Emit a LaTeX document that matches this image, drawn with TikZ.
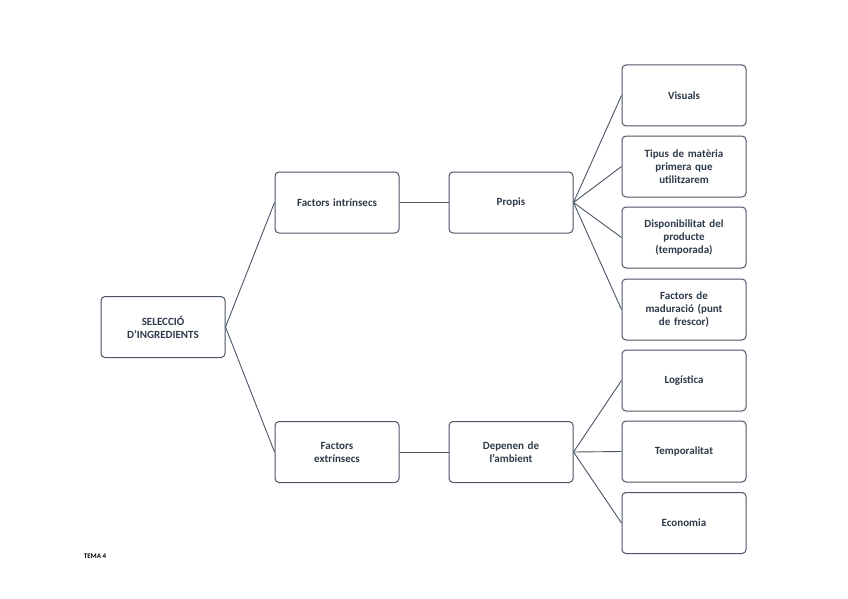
\documentclass[tikz,border=0pt]{standalone}
\usepackage{fontspec}
\setmainfont{Carlito}
\begin{document}
\begin{tikzpicture}[x=1pt,y=-1pt,
  box/.style={draw=edge,line width=1pt,rounded corners=4pt,minimum width=124pt,minimum height=61pt,align=center,text width=116pt,font=\fontsize{11}{13}\selectfont\bfseries,text=txt,fill=white},
  ln/.style={draw=edge,line width=0.9pt}]
\definecolor{edge}{HTML}{4A5666}
\definecolor{txt}{HTML}{2E3A4A}
\useasboundingbox (0,0) rectangle (848,599);
\node[box] (s) at (163,327) {SELECCIÓ\\D'INGREDIENTS};
\node[box] (fi) at (337,202.5) {Factors intrínsecs};
\node[box] (p) at (511,202.5) {Propis};
\node[box] (v) at (684,95.5) {Visuals};
\node[box] (t) at (684,166.5) {Tipus de matèria\\primera que\\utilitzarem};
\node[box] (d) at (684,237.5) {Disponibilitat del\\producte\\(temporada)};
\node[box] (m) at (684,309.5) {Factors de\\maduració (punt\\de frescor)};
\node[box] (fe) at (337,452) {Factors\\extrínsecs};
\node[box] (dp) at (511,452) {Depenen de\\l'ambient};
\node[box] (l) at (684,380.5) {Logística};
\node[box] (tp) at (684,451.5) {Temporalitat};
\node[box] (e) at (684,523) {Economia};
\node[font=\fontsize{7}{8}\selectfont\bfseries,text=black] (tema) at (95,556) {TEMA 4};
\foreach \a/\b in {s/fi,s/fe,fi/p,fe/dp,p/v,p/t,p/d,p/m,dp/l,dp/tp,dp/e}
  \draw[ln] (\a.east) -- (\b.west);
\end{tikzpicture}
\end{document}
